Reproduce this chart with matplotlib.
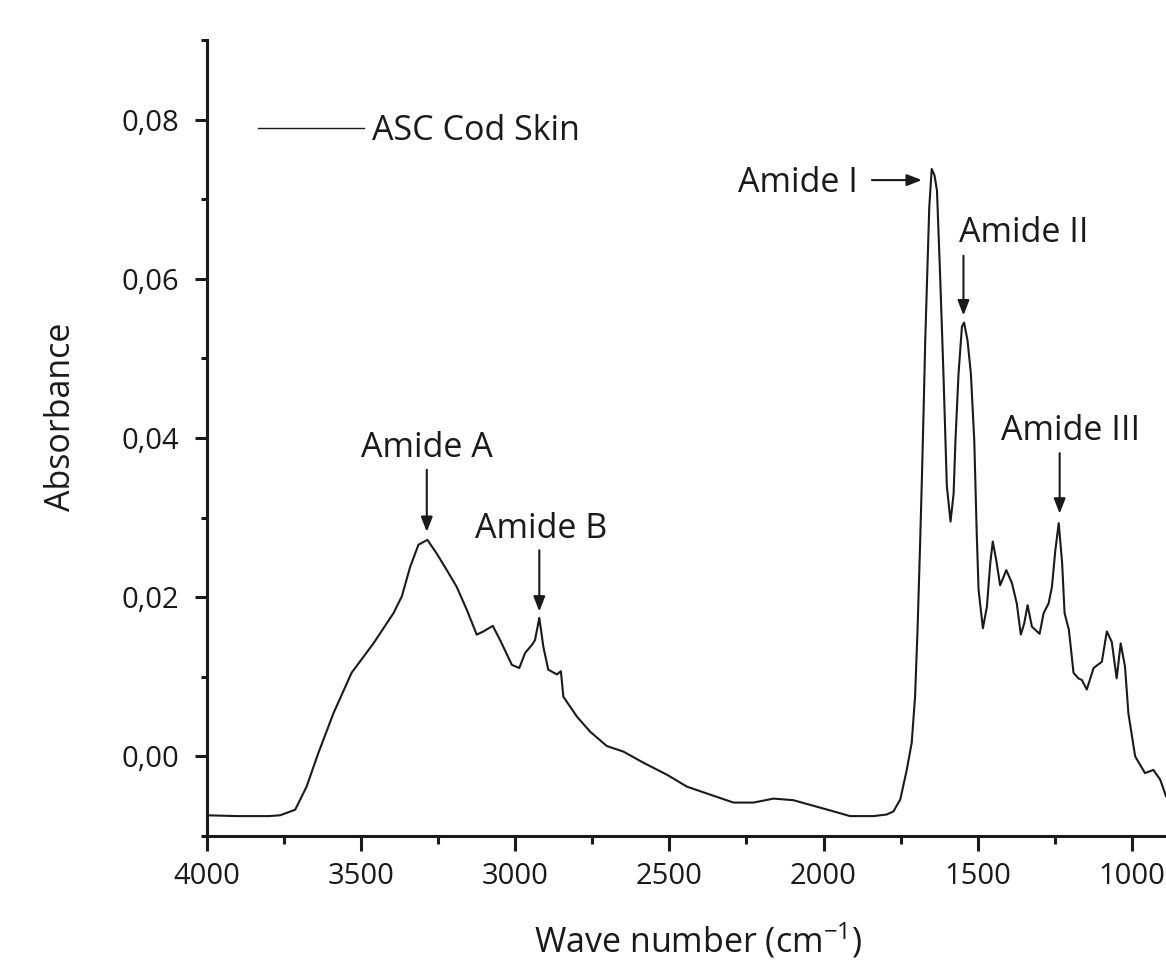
import matplotlib
matplotlib.use("Agg")
import matplotlib.pyplot as plt
from matplotlib.ticker import MultipleLocator, FuncFormatter
import numpy as np

plt.rcParams['font.family'] = ['Open Sans', 'DejaVu Sans']
plt.rcParams['mathtext.fontset'] = 'custom'
plt.rcParams['mathtext.rm'] = 'Open Sans'

# ---- data ----
wavenumber = [4000, 3900, 3800, 3763, 3714, 3677, 3639, 3590, 3531, 3460, 3395, 3368, 3341,
              3314, 3285, 3255, 3222, 3190, 3157, 3125, 3103, 3073, 3049, 3011, 2987, 2968,
              2946, 2936, 2922, 2909, 2893, 2865, 2852, 2844, 2800, 2757, 2703, 2649, 2584,
              2508, 2443, 2368, 2292, 2227, 2162, 2098, 2033, 1968, 1914, 1838, 1795, 1773,
              1751, 1730, 1714, 1703, 1695, 1687, 1681, 1675, 1670, 1657, 1649, 1640, 1632,
              1622, 1611, 1600, 1588, 1578, 1572, 1562, 1551, 1544, 1533, 1522, 1511, 1503,
              1497, 1483, 1470, 1459, 1451, 1440, 1427, 1407, 1389, 1373, 1360, 1349, 1338,
              1324, 1299, 1286, 1270, 1259, 1248, 1237, 1226, 1218, 1204, 1189, 1173, 1162,
              1146, 1124, 1097, 1081, 1065, 1049, 1036, 1022, 1011, 989, 957, 930, 908, 889]
absorbance = [-0.0074, -0.0075, -0.0075, -0.0074, -0.0067, -0.0038, 0.0004, 0.0054, 0.0105,
              0.0142, 0.0180, 0.0201, 0.0238, 0.0266, 0.0272, 0.0255, 0.0234, 0.0213, 0.0184,
              0.0153, 0.0157, 0.0164, 0.0146, 0.0115, 0.0111, 0.0130, 0.0140, 0.0146, 0.0174,
              0.0138, 0.0109, 0.0103, 0.0107, 0.0075, 0.0050, 0.0031, 0.0013, 0.0006, -0.0008,
              -0.0023, -0.0038, -0.0048, -0.0058, -0.0058, -0.0053, -0.0055, -0.0062, -0.0069,
              -0.0075, -0.0075, -0.0073, -0.0069, -0.0054, -0.0017, 0.0017, 0.0075, 0.0159,
              0.0263, 0.0347, 0.0440, 0.0523, 0.0690, 0.0738, 0.0730, 0.0711, 0.0607, 0.0481,
              0.0340, 0.0295, 0.0330, 0.0397, 0.0481, 0.0540, 0.0545, 0.0523, 0.0481, 0.0397,
              0.0280, 0.0209, 0.0161, 0.0188, 0.0243, 0.0270, 0.0247, 0.0215, 0.0234, 0.0218,
              0.0192, 0.0153, 0.0167, 0.0190, 0.0163, 0.0154, 0.0180, 0.0192, 0.0213, 0.0259,
              0.0293, 0.0243, 0.0180, 0.0159, 0.0105, 0.0098, 0.0096, 0.0084, 0.0111, 0.0119,
              0.0157, 0.0144, 0.0098, 0.0142, 0.0113, 0.0054, 0.0000, -0.0021, -0.0017,
              -0.0029, -0.0050]
series_label = "ASC Cod Skin"
xticks = [4000, 3500, 3000, 2500, 2000, 1500, 1000]
yticks = [0.00, 0.02, 0.04, 0.06, 0.08]

peak_labels = ["Amide A", "Amide B", "Amide I", "Amide II", "Amide III"]

INK = '#1a1a1a'

fig = plt.figure(figsize=(11.66, 9.63), dpi=100)
ax = fig.add_axes([207/1166, 127/963, 959/1166, 796/963])

ax.plot(wavenumber, absorbance, color=INK, lw=1.5, label=series_label)

ax.set_xlim(4000, 889)
ax.set_ylim(-0.01, 0.09)

for s in ['top', 'right']:
    ax.spines[s].set_visible(False)
for s in ['left', 'bottom']:
    ax.spines[s].set_linewidth(2.2)
    ax.spines[s].set_color(INK)

ax.set_xticks(xticks)
ax.set_yticks(yticks)
ax.xaxis.set_minor_locator(MultipleLocator(250))
ax.yaxis.set_minor_locator(MultipleLocator(0.01))
ax.yaxis.set_major_formatter(FuncFormatter(lambda v, p: f"{v:.2f}".replace('.', ',')))
ax.tick_params(axis='x', which='major', direction='out', length=10.8, width=2.2, pad=8,
               labelsize=21, colors=INK)
ax.tick_params(axis='x', which='minor', direction='out', length=5.5, width=2.2, colors=INK)
ax.tick_params(axis='y', which='major', direction='out', length=8.6, width=2.2, pad=11.5,
               labelsize=21, colors=INK)
ax.tick_params(axis='y', which='minor', direction='out', length=4.3, width=2.2, colors=INK)

ax.set_ylabel("Absorbance", fontsize=24.5, color=INK)
ax.yaxis.set_label_coords(-0.135, 0.526)
ax.set_xlabel("Wave number (cm$^{\\mathregular{-1}}$)", fontsize=24.5, color=INK)
ax.xaxis.set_label_coords(0.512, -0.106)

leg = ax.legend(loc='center left', bbox_to_anchor=(0.0532, 0.886), frameon=False,
                borderpad=0, borderaxespad=0, handlelength=3.1, handletextpad=0.25,
                fontsize=24.5)
for t in leg.get_texts():
    t.set_color(INK)
for h in leg.get_lines():
    h.set_linewidth(1.0)

arrow_kw = dict(arrowstyle='-|>,head_length=0.9,head_width=0.35', color=INK, lw=1.5,
                shrinkA=0, shrinkB=0)
text_kw = dict(fontsize=24.5, color=INK, va='baseline')

# Amide A
ax.text(3286, 0.0376, peak_labels[0], ha='center', **text_kw)
ax.annotate('', xy=(3287, 0.0282), xytext=(3287, 0.0360), arrowprops=arrow_kw)
# Amide B
ax.text(2917, 0.0274, peak_labels[1], ha='center', **text_kw)
ax.annotate('', xy=(2922, 0.0182), xytext=(2922, 0.0259), arrowprops=arrow_kw)
# Amide I
ax.text(1888, 0.0709, peak_labels[2], ha='right', **text_kw)
ax.annotate('', xy=(1681, 0.0724), xytext=(1843, 0.0724), arrowprops=arrow_kw)
# Amide II
ax.text(1349, 0.0646, peak_labels[3], ha='center', **text_kw)
ax.annotate('', xy=(1546, 0.0554), xytext=(1546, 0.0629), arrowprops=arrow_kw)
# Amide III
ax.text(1200, 0.0397, peak_labels[4], ha='center', **text_kw)
ax.annotate('', xy=(1234, 0.0305), xytext=(1234, 0.0381), arrowprops=arrow_kw)

fig.savefig("out.png", dpi=100)
